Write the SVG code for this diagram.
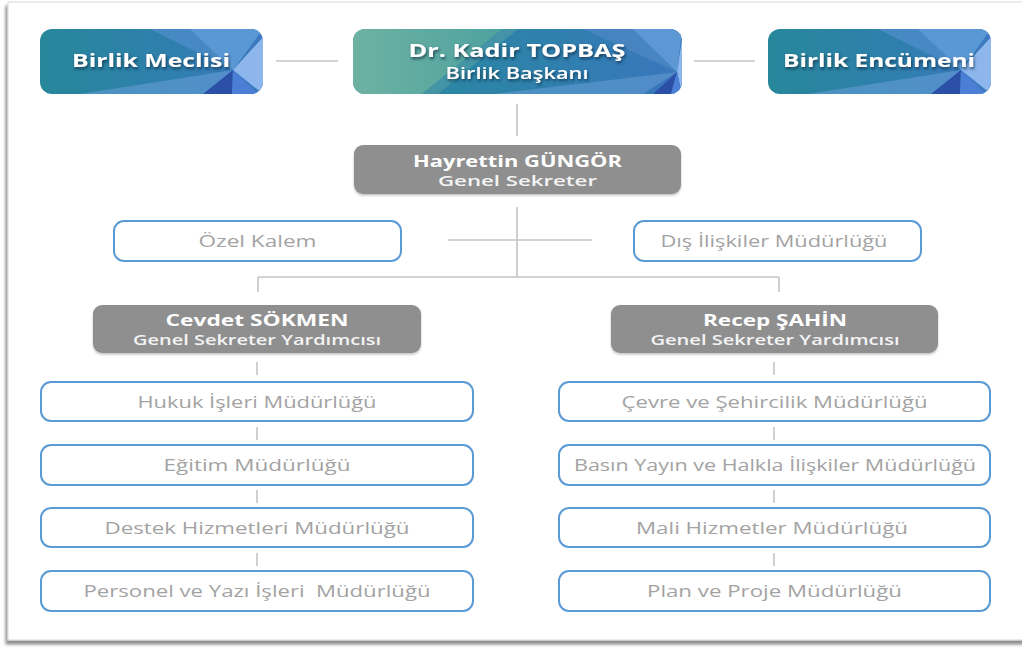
<svg xmlns="http://www.w3.org/2000/svg" width="1022" height="648" viewBox="0 0 1022 648">
<defs>
<style>
.conn{stroke:#c4c4c4;stroke-width:1.6;fill:none}
.ubox{fill:#fff;stroke:#5b9bd5;stroke-width:2}
.gbox{fill:#8f8f8f}
.ut{font-family:"Open Sans","Liberation Sans",sans-serif;font-size:16px;fill:#a3a3a3;text-anchor:middle}
.gt{font-family:"Open Sans","Liberation Sans",sans-serif;font-weight:700;font-size:15.5px;fill:#fff;text-anchor:middle}
.gs{font-family:"Open Sans","Liberation Sans",sans-serif;font-weight:600;font-size:15px;fill:#f4f4f4;text-anchor:middle}
.tt{font-family:"Open Sans","Liberation Sans",sans-serif;font-weight:700;font-size:18.5px;fill:#fff;text-anchor:middle}
.ts{font-family:"Open Sans","Liberation Sans",sans-serif;font-weight:600;font-size:15.5px;fill:#fff;text-anchor:middle}
</style>
<linearGradient id="gBlue" x1="0" y1="0" x2="1" y2="0">
<stop offset="0" stop-color="#27879a"/>
<stop offset="0.6" stop-color="#2f7fae"/>
<stop offset="1" stop-color="#3d78c0"/>
</linearGradient>
<linearGradient id="gGreen" x1="0" y1="0" x2="1" y2="0">
<stop offset="0" stop-color="#6db2a2"/>
<stop offset="1" stop-color="#4fa2a0"/>
</linearGradient>
<linearGradient id="gTeal" x1="0" y1="0" x2="1" y2="0">
<stop offset="0" stop-color="#2a8a9c"/>
<stop offset="0.6" stop-color="#2f80ad"/>
<stop offset="1" stop-color="#3a76bd"/>
</linearGradient>
<clipPath id="cSmall"><rect x="0" y="0" width="223" height="65" rx="12"/></clipPath>
<clipPath id="cBig"><rect x="0" y="0" width="329" height="65" rx="12"/></clipPath>
<filter id="tsh" x="-10%" y="-30%" width="120%" height="170%">
<feDropShadow dx="1" dy="2" stdDeviation="1.6" flood-color="#0d2a40" flood-opacity="0.75"/>
</filter>
<filter id="bsh" x="-5%" y="-10%" width="110%" height="130%">
<feDropShadow dx="0" dy="1.5" stdDeviation="1.2" flood-color="#000" flood-opacity="0.25"/>
</filter>
<filter id="fsh" x="-2%" y="-2%" width="104%" height="104%">
<feDropShadow dx="-2" dy="4" stdDeviation="1.8" flood-color="#000" flood-opacity="0.45"/>
</filter>
<g id="facetsSmall">
<rect x="0" y="0" width="223" height="65" fill="url(#gBlue)"/>
<polygon points="110,0 223,0 193,41" fill="#4b8bc6" opacity="0.85"/>
<polygon points="150,0 223,0 193,41" fill="#5c9ad6" opacity="0.9"/>
<polygon points="223,8 223,65 193,41" fill="#8cb6ec"/>
<polygon points="40,65 193,41 165,65" fill="#6a9fd8" opacity="0.55"/>
<polygon points="163,65 193,41 192,65" fill="#2b4fa6"/>
<polygon points="192,65 193,41 218,65" fill="#4b7fd6"/>
</g>
</defs>

<rect x="8" y="2" width="1030" height="638" fill="#fff" stroke="#d8d8d8" stroke-width="1" filter="url(#fsh)"/>

<g id="connectors">
<line class="conn" x1="276" y1="61" x2="338" y2="61"/>
<line class="conn" x1="694" y1="61" x2="755" y2="61"/>
<line class="conn" x1="517" y1="104" x2="517" y2="136"/>
<line class="conn" x1="517" y1="207" x2="517" y2="277"/>
<line class="conn" x1="448" y1="240" x2="592" y2="240"/>
<line class="conn" x1="258" y1="277" x2="779" y2="277"/>
<line class="conn" x1="258" y1="277" x2="258" y2="292"/>
<line class="conn" x1="779" y1="277" x2="779" y2="292"/>
<line class="conn" x1="257" y1="362" x2="257" y2="375"/>
<line class="conn" x1="257" y1="427" x2="257" y2="440"/>
<line class="conn" x1="257" y1="490" x2="257" y2="503"/>
<line class="conn" x1="257" y1="553" x2="257" y2="566"/>
<line class="conn" x1="774" y1="362" x2="774" y2="375"/>
<line class="conn" x1="774" y1="427" x2="774" y2="440"/>
<line class="conn" x1="774" y1="490" x2="774" y2="503"/>
<line class="conn" x1="774" y1="553" x2="774" y2="566"/>
</g>

<g id="birlik-meclisi">
<g transform="translate(40,29)" clip-path="url(#cSmall)"><use href="#facetsSmall"/></g>
<text class="tt" x="151" y="67" textLength="158" lengthAdjust="spacingAndGlyphs" filter="url(#tsh)">Birlik Meclisi</text>
</g>

<g id="kadir-topbas">
<g transform="translate(353,29)" clip-path="url(#cBig)">
<rect x="0" y="0" width="329" height="65" fill="url(#gTeal)"/>
<polygon points="0,0 149,0 69,65 0,65" fill="url(#gGreen)"/>
<polygon points="149,0 165,0 85,65 69,65" fill="#5aa4a6" opacity="0.5"/>
<polygon points="230,0 329,0 324,43" fill="#4a86c2" opacity="0.85"/>
<polygon points="280,0 329,0 324,43" fill="#5d98d4"/>
<polygon points="329,10 329,65 324,43" fill="#8cb6ec"/>
<polygon points="140,65 324,43 290,65" fill="#6a9fd8" opacity="0.5"/>
<polygon points="300,65 324,43 318,65" fill="#2b4fa6"/>
<polygon points="318,65 324,43 329,65" fill="#4b7fd6"/>
</g>
<text class="tt" x="517" y="57" textLength="217" lengthAdjust="spacingAndGlyphs" filter="url(#tsh)">Dr. Kadir TOPBAŞ</text>
<text class="ts" x="517" y="79" textLength="143" lengthAdjust="spacingAndGlyphs" filter="url(#tsh)">Birlik Başkanı</text>
</g>

<g id="birlik-encumeni">
<g transform="translate(768,29)" clip-path="url(#cSmall)"><use href="#facetsSmall"/></g>
<text class="tt" x="879" y="67" textLength="192" lengthAdjust="spacingAndGlyphs" filter="url(#tsh)">Birlik Encümeni</text>
</g>

<g id="hayrettin-gungor">
<rect class="gbox" x="354" y="145" width="327" height="49" rx="9" filter="url(#bsh)"/>
<text class="gt" x="517.5" y="167" textLength="209" lengthAdjust="spacingAndGlyphs">Hayrettin GÜNGÖR</text>
<text class="gs" x="517.5" y="186" textLength="159" lengthAdjust="spacingAndGlyphs">Genel Sekreter</text>
</g>

<g id="ozel-kalem">
<rect class="ubox" x="114" y="221" width="287" height="40" rx="10"/>
<text class="ut" x="257.5" y="247" textLength="118" lengthAdjust="spacingAndGlyphs">Özel Kalem</text>
</g>

<g id="dis-iliskiler">
<rect class="ubox" x="634" y="221" width="287" height="40" rx="10"/>
<text class="ut" x="774" y="247" textLength="227" lengthAdjust="spacingAndGlyphs">Dış İlişkiler Müdürlüğü</text>
</g>

<g id="cevdet-sokmen">
<rect class="gbox" x="93" y="305" width="328" height="48" rx="9" filter="url(#bsh)"/>
<text class="gt" x="257" y="326" textLength="183" lengthAdjust="spacingAndGlyphs">Cevdet SÖKMEN</text>
<text class="gs" x="257" y="345" textLength="248" lengthAdjust="spacingAndGlyphs">Genel Sekreter Yardımcısı</text>
</g>

<g id="recep-sahin">
<rect class="gbox" x="611" y="305" width="327" height="48" rx="9" filter="url(#bsh)"/>
<text class="gt" x="775" y="326" textLength="144" lengthAdjust="spacingAndGlyphs">Recep ŞAHİN</text>
<text class="gs" x="775" y="345" textLength="249" lengthAdjust="spacingAndGlyphs">Genel Sekreter Yardımcısı</text>
</g>

<g id="hukuk">
<rect class="ubox" x="41" y="382" width="432" height="39" rx="10"/>
<text class="ut" x="257" y="408" textLength="239" lengthAdjust="spacingAndGlyphs">Hukuk İşleri Müdürlüğü</text>
</g>
<g id="egitim">
<rect class="ubox" x="41" y="445" width="432" height="40" rx="10"/>
<text class="ut" x="257" y="471" textLength="187" lengthAdjust="spacingAndGlyphs">Eğitim Müdürlüğü</text>
</g>
<g id="destek">
<rect class="ubox" x="41" y="508" width="432" height="39" rx="10"/>
<text class="ut" x="257" y="534" textLength="305" lengthAdjust="spacingAndGlyphs">Destek Hizmetleri Müdürlüğü</text>
</g>
<g id="personel">
<rect class="ubox" x="41" y="571" width="432" height="40" rx="10"/>
<text class="ut" x="257" y="597" textLength="347" lengthAdjust="spacingAndGlyphs" xml:space="preserve">Personel ve Yazı İşleri  Müdürlüğü</text>
</g>

<g id="cevre">
<rect class="ubox" x="559" y="382" width="431" height="39" rx="10"/>
<text class="ut" x="774.5" y="408" textLength="306" lengthAdjust="spacingAndGlyphs">Çevre ve Şehircilik Müdürlüğü</text>
</g>
<g id="basin">
<rect class="ubox" x="559" y="445" width="431" height="40" rx="10"/>
<text class="ut" x="775" y="471" textLength="402" lengthAdjust="spacingAndGlyphs">Basın Yayın ve Halkla İlişkiler Müdürlüğü</text>
</g>
<g id="mali">
<rect class="ubox" x="559" y="508" width="431" height="39" rx="10"/>
<text class="ut" x="772" y="534" textLength="272" lengthAdjust="spacingAndGlyphs">Mali Hizmetler Müdürlüğü</text>
</g>
<g id="plan">
<rect class="ubox" x="559" y="571" width="431" height="40" rx="10"/>
<text class="ut" x="774.5" y="597" textLength="255" lengthAdjust="spacingAndGlyphs">Plan ve Proje Müdürlüğü</text>
</g>
</svg>
